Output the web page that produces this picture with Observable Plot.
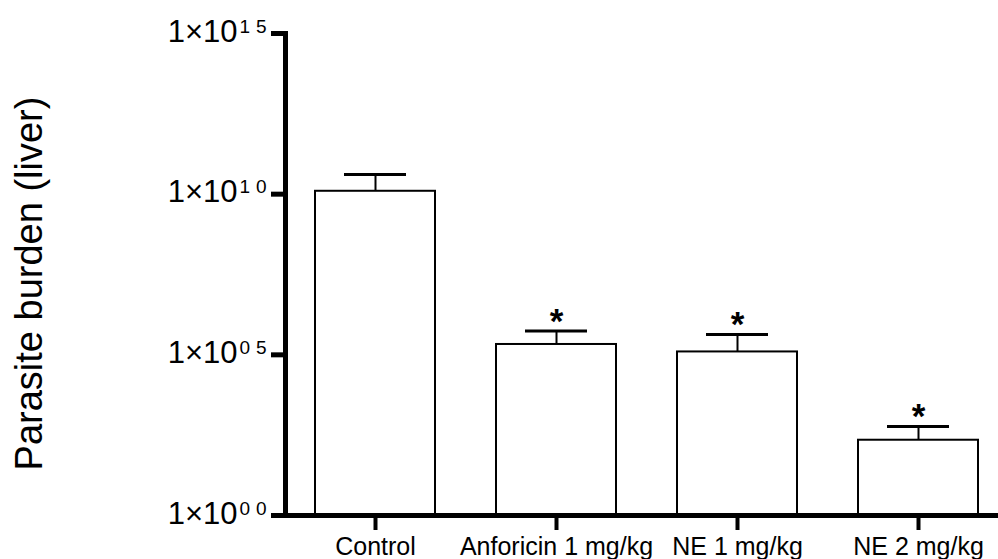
<!DOCTYPE html>
<html><head><meta charset="utf-8">
<script src="https://cdn.jsdelivr.net/npm/d3@7"></script>
<script src="https://cdn.jsdelivr.net/npm/@observablehq/plot@0.6"></script>
<style>
body{margin:0;background:#fff;}
</style></head><body><div id="chart"></div>
<script>
const groups = ["Control", "Anforicin 1 mg/kg", "NE 1 mg/kg", "NE 2 mg/kg"];
const means = [1.23e10, 2.1e5, 1.23e5, 220];
const sems = [2.84e10, 3.4e5, 3.1e5, 370];
const significant = [false, true, true, true];
const yTickValues = [1, 1e5, 1e10, 1e15];
const yTickBase = ["1×10", "1×10", "1×10", "1×10"];
const yTickExp = ["00", "05", "10", "15"];
const yTitle = "Parasite burden (liver)";

const data = groups.map((g, i) => ({group: g, mean: means[i], upper: means[i] + sems[i], sig: significant[i]}));
const ticks = yTickValues.map((v, i) => ({v, base: yTickBase[i], exp: yTickExp[i]}));

const plot = Plot.plot({
  width: 998, height: 559,
  marginLeft: 285, marginRight: 0, marginTop: 33, marginBottom: 44,
  style: {fontFamily: "Arial, 'Liberation Sans', sans-serif", color: "#000", background: "#fff"},
  x: {type: "band", domain: groups, paddingInner: 0.338, paddingOuter: 0.1355, align: 0.59},
  y: {type: "log", domain: [1, 1e15]},
  marks: [
    Plot.barY(data, {x: "group", y1: 1, y2: "mean", fill: "white", stroke: "black", strokeWidth: 2}),
    Plot.ruleX(data, {x: "group", y1: "mean", y2: "upper", stroke: "black", strokeWidth: 2}),
    Plot.tickY(data, {x: "group", y: "upper", stroke: "black", strokeWidth: 3, insetLeft: 29, insetRight: 29}),
    Plot.text(data.filter(d => d.sig), {x: "group", y: "upper", text: () => "*", fontSize: 35, fontWeight: "bold", lineAnchor: "bottom", dy: 2}),
    Plot.ruleY([1], {stroke: "black", strokeWidth: 5}),
    Plot.frame({anchor: "left", stroke: "black", strokeWidth: 5}),
    Plot.axisY(yTickValues, {tickSize: 14, strokeWidth: 5, fill: "none", label: null}),
    Plot.axisX({tickSize: 15, tickPadding: 7, strokeWidth: 4, fontSize: 25, label: null}),
    Plot.text(ticks, {y: "v", text: "base", frameAnchor: "left", textAnchor: "end", lineAnchor: "bottom", dx: -48, dy: 8, fontSize: 31}),
    Plot.text(ticks, {y: "v", text: "exp", frameAnchor: "left", textAnchor: "start", lineAnchor: "bottom", dx: -46, dy: -1, fontSize: 19}),
    Plot.text([yTitle], {text: d => d, frameAnchor: "left", rotate: -90, textAnchor: "middle", lineAnchor: "bottom", dx: -244, dy: 9, fontSize: 38})
  ]
});
d3.select(plot).selectAll("text")
  .filter(function() { return yTickExp.includes(this.textContent); })
  .attr("letter-spacing", 6);
document.getElementById("chart").appendChild(plot);
</script>
</body></html>
